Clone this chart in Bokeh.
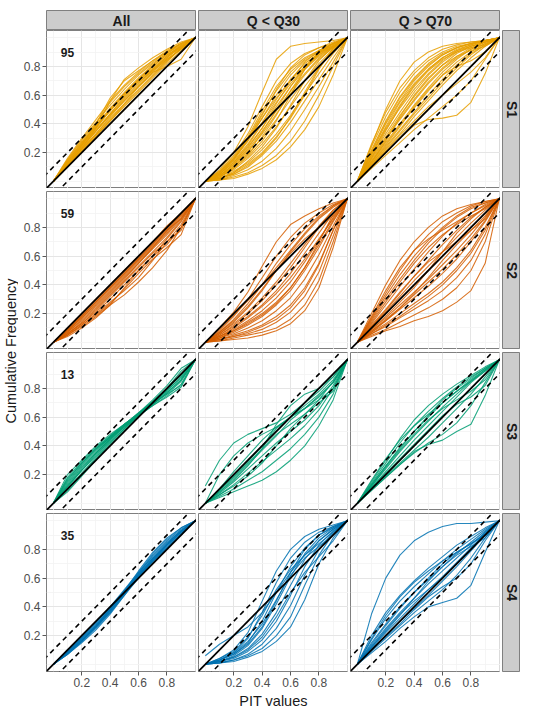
import math

from bokeh.core.properties import value
from bokeh.embed import file_html
from bokeh.layouts import column, row
from bokeh.models import FixedTicker, LinearAxis, Range1d
from bokeh.plotting import figure
from bokeh.resources import INLINE

# PIT grid on which every cumulative-frequency curve is given
PIT = [0.0, 0.1, 0.2, 0.3, 0.4, 0.5, 0.6, 0.7, 0.8, 0.9, 1.0]

STATIONS = ["S1", "S2", "S3", "S4"]
GROUPS = ["All", "Q < Q30", "Q > Q70"]
COUNTS = [95, 59, 13, 35]
COLORS = ["#E69F00", "#D55E00", "#009E73", "#0072B2"]

TICKS = [0.2, 0.4, 0.6, 0.8]
MINOR_TICKS = [0.0, 0.1, 0.3, 0.5, 0.7, 0.9, 1.0]
BAND = 0.1          # half-width of the dashed tolerance band
REF_X = [-0.2, 1.2]  # extent of the reference lines

# ---- S1 ----
S1_ALL = [
    [0, .10, .20, .30, .40, .50, .60, .70, .80, .90, 1],
    [0, .12, .23, .33, .44, .54, .64, .74, .84, .93, 1],
    [0, .13, .25, .36, .47, .58, .68, .78, .87, .95, 1],
    [0, .14, .27, .39, .51, .62, .72, .81, .89, .96, 1],
    [0, .15, .28, .40, .55, .66, .75, .83, .90, .96, 1],
    [0, .12, .25, .40, .58, .70, .77, .84, .90, .96, 1],
    [0, .11, .23, .37, .56, .71, .79, .86, .92, .97, 1],
    [0, .11, .21, .31, .42, .52, .62, .72, .82, .91, 1],
    [0, .12, .22, .32, .42, .53, .63, .73, .83, .93, 1],
    [0, .13, .24, .35, .46, .56, .66, .76, .85, .92, 1],
    [0, .14, .26, .38, .49, .60, .70, .79, .87, .93, 1],
    [0, .10, .21, .32, .43, .54, .66, .76, .80, .85, 1],
    [0, .11, .23, .35, .47, .59, .70, .78, .86, .94, 1],
    [0, .15, .29, .41, .53, .64, .74, .82, .89, .95, 1],
    [0, .16, .30, .43, .56, .67, .76, .84, .91, .96, 1],
    [0, .12, .25, .37, .49, .60, .69, .77, .85, .92, 1],
    [0, .13, .26, .37, .50, .61, .71, .80, .88, .94, 1],
    [0, .11, .22, .33, .45, .56, .66, .75, .84, .92, 1],
    [0, .14, .27, .38, .50, .61, .71, .80, .88, .94, 1],
    [0, .12, .24, .35, .46, .57, .67, .77, .86, .94, 1],
]
S1_LOW = [
    [0, .08, .20, .38, .62, .85, .94, .96, .97, .98, 1],
    [0, .07, .18, .33, .52, .70, .82, .89, .93, .97, 1],
    [0, .06, .16, .30, .47, .63, .76, .85, .91, .96, 1],
    [0, .05, .14, .26, .41, .57, .71, .82, .89, .95, 1],
    [0, .05, .13, .24, .37, .52, .66, .78, .87, .94, 1],
    [0, .04, .11, .21, .33, .47, .61, .74, .85, .93, 1],
    [0, .04, .10, .19, .30, .43, .57, .70, .82, .92, 1],
    [0, .03, .08, .16, .26, .38, .52, .66, .79, .91, 1],
    [0, .02, .07, .13, .22, .33, .46, .61, .75, .89, 1],
    [0, .02, .05, .10, .18, .28, .41, .56, .71, .86, 1],
    [0, .01, .04, .08, .14, .23, .35, .50, .66, .83, 1],
    [0, .01, .03, .06, .11, .18, .28, .42, .60, .80, 1],
    [0, .01, .02, .05, .09, .15, .24, .36, .52, .74, 1],
    [0, .06, .15, .28, .44, .60, .74, .84, .90, .93, 1],
    [0, .03, .10, .20, .34, .50, .66, .80, .90, .96, 1],
    [0, .03, .09, .17, .28, .42, .60, .78, .90, .96, 1],
    [0, .07, .17, .31, .49, .66, .78, .86, .91, .94, 1],
    [0, .02, .06, .12, .20, .31, .44, .60, .78, .93, 1],
    [0, .05, .15, .29, .46, .64, .79, .88, .93, .96, 1],
    [0, .04, .12, .23, .37, .54, .70, .83, .91, .96, 1],
    [0, .03, .09, .18, .31, .46, .63, .78, .89, .96, 1],
    [0, .02, .06, .14, .24, .37, .53, .70, .84, .94, 1],
    [0, .06, .16, .29, .44, .58, .70, .80, .88, .95, 1],
    [0, .04, .12, .22, .35, .49, .63, .75, .86, .94, 1],
    [0, .02, .05, .11, .19, .30, .45, .62, .79, .92, 1],
    [0, .05, .13, .25, .40, .55, .68, .79, .88, .94, 1],
]
S1_HIGH = [
    [0, .25, .50, .70, .83, .90, .94, .96, .97, .98, 1],
    [0, .26, .48, .65, .77, .86, .92, .95, .97, .98, 1],
    [0, .22, .42, .59, .72, .82, .89, .93, .96, .98, 1],
    [0, .19, .37, .53, .67, .78, .86, .92, .95, .98, 1],
    [0, .17, .33, .48, .62, .74, .83, .90, .94, .97, 1],
    [0, .15, .30, .44, .57, .69, .79, .87, .93, .97, 1],
    [0, .14, .27, .40, .53, .65, .76, .85, .92, .97, 1],
    [0, .12, .24, .36, .48, .60, .71, .81, .89, .95, 1],
    [0, .11, .22, .33, .45, .56, .67, .77, .86, .94, 1],
    [0, .10, .20, .30, .40, .50, .60, .70, .80, .90, 1],
    [0, .09, .18, .27, .36, .44, .52, .60, .70, .85, 1],
    [0, .10, .20, .30, .39, .43, .44, .46, .55, .75, 1],
    [0, .20, .40, .56, .70, .80, .88, .93, .96, .98, 1],
    [0, .16, .35, .52, .66, .77, .85, .90, .93, .95, 1],
    [0, .13, .28, .45, .60, .72, .81, .87, .91, .94, 1],
    [0, .12, .25, .38, .52, .64, .74, .80, .84, .90, 1],
    [0, .24, .45, .62, .75, .84, .90, .94, .96, .97, 1],
    [0, .21, .41, .58, .71, .81, .88, .93, .96, .98, 1],
    [0, .18, .36, .51, .64, .75, .84, .91, .95, .98, 1],
    [0, .16, .31, .46, .59, .71, .81, .89, .94, .97, 1],
    [0, .14, .29, .43, .56, .68, .78, .86, .92, .96, 1],
    [0, .13, .26, .39, .51, .63, .74, .83, .90, .96, 1],
    [0, .11, .23, .35, .47, .58, .69, .79, .88, .95, 1],
    [0, .10, .21, .32, .42, .52, .60, .68, .76, .86, 1],
    [0, .19, .38, .55, .68, .78, .86, .91, .94, .97, 1],
]

# ---- S2 ----
S2_ALL = [
    [0, .09, .19, .29, .39, .49, .59, .69, .79, .89, 1],
    [0, .08, .17, .27, .37, .47, .57, .67, .77, .88, 1],
    [0, .07, .16, .25, .35, .45, .55, .65, .75, .86, 1],
    [0, .06, .14, .23, .33, .43, .53, .63, .73, .85, 1],
    [0, .06, .13, .21, .30, .40, .50, .60, .72, .84, 1],
    [0, .05, .12, .20, .28, .36, .45, .57, .70, .82, 1],
    [0, .05, .11, .18, .26, .33, .42, .52, .64, .80, 1],
    [0, .06, .13, .22, .32, .42, .52, .62, .70, .78, 1],
    [0, .08, .18, .28, .38, .48, .58, .68, .80, .90, 1],
    [0, .07, .15, .24, .34, .44, .55, .66, .78, .89, 1],
    [0, .05, .12, .19, .27, .37, .48, .58, .66, .75, 1],
    [0, .10, .20, .30, .40, .50, .60, .70, .81, .90, 1],
    [0, .09, .18, .28, .38, .48, .58, .68, .78, .86, 1],
    [0, .04, .10, .17, .26, .38, .50, .60, .68, .80, 1],
    [0, .08, .17, .26, .36, .46, .56, .66, .76, .87, 1],
]
S2_LOW = [
    [0, .10, .21, .35, .53, .70, .82, .88, .93, .97, 1],
    [0, .08, .18, .30, .45, .60, .73, .83, .90, .96, 1],
    [0, .07, .15, .25, .37, .50, .63, .75, .86, .94, 1],
    [0, .06, .13, .21, .31, .42, .55, .68, .81, .92, 1],
    [0, .05, .11, .18, .26, .36, .48, .62, .76, .90, 1],
    [0, .04, .09, .15, .22, .31, .42, .56, .71, .87, 1],
    [0, .03, .07, .12, .18, .26, .36, .50, .66, .84, 1],
    [0, .03, .06, .10, .15, .22, .31, .44, .61, .81, 1],
    [0, .02, .05, .08, .12, .18, .26, .38, .55, .78, 1],
    [0, .02, .04, .06, .09, .14, .21, .32, .49, .74, 1],
    [0, .01, .03, .05, .07, .10, .16, .26, .43, .70, 1],
    [0, .01, .02, .03, .05, .08, .13, .22, .38, .66, 1],
    [0, .06, .14, .24, .36, .50, .62, .72, .80, .88, 1],
    [0, .04, .10, .17, .25, .34, .45, .58, .72, .86, 1],
    [0, .03, .08, .14, .20, .28, .38, .52, .70, .89, 1],
    [0, .09, .19, .29, .40, .52, .64, .76, .87, .95, 1],
    [0, .05, .12, .20, .29, .40, .52, .66, .80, .92, 1],
    [0, .04, .08, .13, .19, .27, .38, .52, .68, .85, 1],
    [0, .02, .04, .07, .11, .16, .24, .36, .54, .78, 1],
    [0, .07, .16, .27, .40, .55, .68, .79, .88, .95, 1],
]
S2_HIGH = [
    [0, .20, .40, .57, .70, .80, .88, .93, .96, .98, 1],
    [0, .17, .34, .50, .64, .75, .84, .90, .95, .98, 1],
    [0, .15, .30, .44, .57, .69, .79, .87, .93, .97, 1],
    [0, .13, .26, .39, .51, .63, .74, .83, .90, .96, 1],
    [0, .12, .23, .35, .46, .57, .68, .78, .87, .94, 1],
    [0, .10, .20, .30, .40, .50, .60, .70, .80, .90, 1],
    [0, .09, .17, .26, .35, .44, .54, .64, .75, .87, 1],
    [0, .08, .15, .23, .31, .39, .48, .58, .70, .84, 1],
    [0, .07, .13, .20, .27, .34, .42, .52, .64, .80, 1],
    [0, .06, .11, .17, .23, .29, .36, .45, .57, .75, 1],
    [0, .05, .09, .14, .19, .24, .30, .38, .50, .70, 1],
    [0, .04, .08, .11, .15, .18, .22, .28, .36, .55, 1],
    [0, .14, .28, .42, .55, .66, .75, .82, .88, .93, 1],
    [0, .11, .22, .34, .46, .56, .63, .70, .78, .88, 1],
    [0, .09, .18, .28, .38, .50, .63, .76, .86, .94, 1],
    [0, .07, .15, .24, .34, .45, .57, .68, .78, .86, 1],
    [0, .18, .36, .52, .64, .72, .78, .84, .90, .95, 1],
    [0, .16, .32, .47, .60, .71, .80, .88, .94, .97, 1],
    [0, .11, .21, .32, .43, .53, .63, .73, .83, .92, 1],
    [0, .08, .16, .24, .33, .42, .51, .61, .72, .85, 1],
    [0, .06, .12, .18, .25, .32, .40, .50, .62, .78, 1],
]

# ---- S3 ----
S3_ALL = [
    [0, .20, .30, .40, .48, .55, .62, .70, .78, .88, 1],
    [0, .18, .29, .39, .47, .55, .62, .69, .77, .86, 1],
    [0, .15, .27, .37, .46, .54, .61, .69, .76, .85, 1],
    [0, .13, .25, .35, .45, .53, .61, .68, .75, .83, 1],
    [0, .11, .23, .34, .44, .53, .61, .68, .74, .81, 1],
    [0, .10, .21, .32, .43, .52, .61, .69, .77, .86, 1],
    [0, .12, .24, .35, .45, .54, .62, .70, .79, .90, 1],
    [0, .09, .20, .31, .42, .52, .62, .71, .80, .92, 1],
    [0, .14, .26, .36, .46, .55, .63, .71, .80, .89, 1],
    [0, .16, .28, .38, .47, .55, .63, .70, .76, .82, 1],
    [0, .08, .19, .30, .41, .51, .61, .70, .80, .90, 1],
    [0, .12, .23, .33, .44, .54, .63, .72, .82, .94, 1],
    [0, .17, .28, .38, .46, .54, .62, .70, .79, .87, 1],
]
S3_LOW = [
    [.12, .30, .42, .48, .52, .56, .62, .70, .78, .88, 1],
    [0, .20, .33, .42, .48, .53, .60, .68, .76, .86, 1],
    [0, .10, .20, .30, .40, .50, .60, .70, .80, .90, 1],
    [0, .08, .17, .27, .37, .47, .58, .66, .75, .84, 1],
    [0, .09, .18, .28, .38, .48, .55, .62, .72, .85, 1],
    [0, .07, .15, .24, .33, .42, .50, .58, .68, .82, 1],
    [0, .06, .13, .21, .29, .37, .45, .54, .65, .80, 1],
    [0, .05, .10, .16, .22, .30, .38, .48, .60, .76, 1],
    [0, .04, .08, .12, .16, .22, .30, .40, .54, .72, 1],
    [0, .08, .16, .26, .38, .55, .68, .76, .80, .88, 1],
    [0, .09, .19, .29, .40, .52, .60, .66, .72, .80, 1],
    [0, .06, .12, .19, .28, .40, .52, .62, .70, .78, 1],
    [0, .10, .22, .33, .44, .53, .60, .66, .74, .84, 1],
]
S3_HIGH = [
    [0, .15, .30, .45, .58, .68, .76, .83, .89, .95, 1],
    [0, .14, .28, .42, .54, .64, .73, .81, .88, .94, 1],
    [0, .13, .26, .39, .50, .60, .70, .78, .86, .93, 1],
    [0, .12, .24, .36, .47, .57, .67, .76, .85, .93, 1],
    [0, .11, .22, .33, .44, .54, .64, .74, .84, .92, 1],
    [0, .10, .20, .30, .40, .50, .60, .70, .80, .90, 1],
    [0, .10, .19, .28, .37, .46, .56, .66, .76, .88, 1],
    [0, .09, .18, .27, .35, .42, .48, .56, .68, .84, 1],
    [0, .09, .18, .27, .36, .41, .44, .50, .55, .75, 1],
    [0, .16, .31, .44, .54, .62, .70, .78, .85, .92, 1],
    [0, .12, .25, .37, .48, .58, .66, .72, .78, .86, 1],
    [0, .13, .26, .38, .50, .61, .72, .80, .87, .94, 1],
    [0, .11, .21, .31, .41, .51, .61, .69, .74, .82, 1],
]

# ---- S4 ----
S4_ALL = [
    [0, .08, .17, .27, .38, .50, .62, .73, .83, .92, 1],
    [0, .09, .18, .28, .39, .51, .63, .74, .84, .93, 1],
    [0, .07, .16, .26, .37, .49, .62, .74, .84, .93, 1],
    [0, .08, .16, .25, .36, .49, .63, .76, .86, .94, 1],
    [0, .09, .19, .29, .40, .51, .62, .72, .82, .91, 1],
    [0, .10, .19, .29, .40, .52, .64, .75, .85, .93, 1],
    [0, .07, .15, .24, .35, .48, .61, .73, .83, .92, 1],
    [0, .08, .17, .26, .37, .50, .64, .77, .87, .95, 1],
    [0, .09, .18, .27, .38, .50, .61, .71, .81, .90, 1],
    [0, .08, .16, .26, .38, .51, .65, .78, .88, .95, 1],
    [0, .07, .16, .27, .39, .51, .62, .72, .81, .91, 1],
    [0, .09, .17, .26, .36, .48, .60, .72, .83, .92, 1],
]
S4_LOW = [
    [0, .04, .10, .22, .44, .65, .80, .89, .94, .97, 1],
    [0, .03, .08, .18, .36, .57, .74, .85, .92, .96, 1],
    [0, .03, .07, .15, .30, .50, .68, .81, .90, .96, 1],
    [0, .02, .06, .13, .25, .42, .61, .77, .88, .95, 1],
    [0, .02, .05, .11, .21, .36, .55, .73, .86, .94, 1],
    [0, .02, .04, .09, .17, .30, .48, .68, .83, .93, 1],
    [0, .01, .03, .07, .14, .25, .41, .62, .80, .92, 1],
    [0, .01, .03, .06, .11, .20, .33, .55, .76, .91, 1],
    [0, .01, .02, .05, .09, .16, .26, .45, .70, .88, 1],
    [.06, .14, .20, .26, .36, .50, .64, .76, .86, .94, 1],
    [0, .03, .08, .16, .28, .45, .62, .74, .82, .90, 1],
    [0, .02, .05, .10, .19, .33, .50, .64, .75, .86, 1],
    [0, .03, .07, .14, .26, .44, .64, .80, .90, .95, 1],
    [0, .04, .09, .19, .34, .52, .66, .76, .84, .92, 1],
]
S4_HIGH = [
    [0, .35, .60, .76, .86, .92, .96, .98, .98, .99, 1],
    [0, .20, .36, .48, .58, .67, .75, .83, .89, .95, 1],
    [0, .17, .32, .44, .54, .63, .72, .80, .87, .94, 1],
    [0, .15, .28, .40, .50, .59, .68, .77, .85, .93, 1],
    [0, .13, .25, .36, .46, .56, .65, .74, .83, .92, 1],
    [0, .11, .22, .32, .42, .52, .61, .71, .81, .91, 1],
    [0, .10, .20, .30, .39, .48, .58, .68, .79, .90, 1],
    [0, .09, .18, .27, .36, .44, .52, .62, .74, .88, 1],
    [0, .08, .16, .25, .33, .40, .43, .46, .55, .78, 1],
    [0, .14, .27, .39, .50, .60, .70, .78, .84, .90, 1],
    [0, .12, .24, .35, .44, .52, .60, .70, .80, .92, 1],
    [0, .18, .34, .47, .57, .65, .72, .78, .84, .91, 1],
    [0, .10, .19, .28, .38, .47, .54, .60, .70, .86, 1],
    [0, .12, .23, .34, .46, .58, .68, .76, .82, .88, 1],
]

CURVES = [
    [S1_ALL, S1_LOW, S1_HIGH],
    [S2_ALL, S2_LOW, S2_HIGH],
    [S3_ALL, S3_LOW, S3_HIGH],
    [S4_ALL, S4_LOW, S4_HIGH],
]

FONT_NAME = "Liberation Sans"
FONT = value(FONT_NAME)
BORDER = "#7F7F7F"
STRIP_FILL = "#CCCCCC"
PANEL_W, PANEL_H = 150, 158
LEFT_PAD = 28      # room for the y tick labels (beside the title column)
GAP = 2            # horizontal gap between panels
ROW_GAP = 3        # vertical gap between panels
BOTTOM_PAD = 40    # x tick labels and axis title


def style_axis(ax):
    ax.axis_line_color = None
    ax.major_tick_line_color = "#595959"
    ax.major_tick_out = 4
    ax.major_tick_in = 0
    ax.minor_tick_out = 0
    ax.minor_tick_in = 0
    ax.major_label_text_font = FONT_NAME
    ax.major_label_text_font_size = "12px"
    ax.major_label_text_color = "#4D4D4D"
    ax.major_label_standoff = 2
    ax.axis_label_text_font = FONT_NAME
    ax.axis_label_text_font_size = "14.5px"
    ax.axis_label_text_font_style = "normal"
    ax.axis_label_text_color = "#1A1A1A"
    ax.axis_label_standoff = 3


def blank(width, height, **borders):
    f = figure(frame_width=width, frame_height=height,
               x_range=Range1d(0, 1), y_range=Range1d(0, 1),
               x_axis_location=None, y_axis_location=None,
               output_backend="svg", toolbar_location=None, **borders)
    f.grid.visible = False
    f.border_fill_color = "white"
    return f


def strip(width, height, label, angle, font_size, **borders):
    s = blank(width, height, **borders)
    s.background_fill_color = STRIP_FILL
    s.outline_line_color = BORDER
    s.text(x=[0.5], y=[0.5], text=[label], angle=angle,
           text_font=FONT, text_font_style="bold", text_font_size=font_size,
           text_color="#1A1A1A", text_align="center", text_baseline="middle")
    return s


def panel(r, c):
    p = figure(frame_width=PANEL_W, frame_height=PANEL_H,
               x_range=Range1d(-0.048, 1.008), y_range=Range1d(-0.05, 1.05),
               x_axis_location=None, y_axis_location=None,
               output_backend="svg", toolbar_location=None,
               min_border_left=LEFT_PAD if c == 0 else GAP, min_border_right=0,
               min_border_top=0 if r == 0 else ROW_GAP,
               min_border_bottom=BOTTOM_PAD if r == 3 else 0)
    p.outline_line_color = BORDER
    p.border_fill_color = "white"
    p.background_fill_color = "white"
    p.grid.ticker = FixedTicker(ticks=TICKS, minor_ticks=MINOR_TICKS)
    p.grid.grid_line_color = "#E5E5E5"
    p.grid.grid_line_width = 1
    p.grid.minor_grid_line_color = "#F3F3F3"
    p.grid.minor_grid_line_width = 0.8

    if c == 0:
        ax = LinearAxis(ticker=FixedTicker(ticks=TICKS))
        style_axis(ax)
        p.add_layout(ax, "left")
    if r == 3:
        ax = LinearAxis(ticker=FixedTicker(ticks=TICKS),
                        axis_label="PIT values" if c == 1 else None)
        style_axis(ax)
        p.add_layout(ax, "below")

    curves = CURVES[r][c]
    p.multi_line(xs=[PIT] * len(curves), ys=curves,
                 line_color=COLORS[r], line_width=1.1, line_alpha=0.85)

    for off in (BAND, -BAND):
        p.line(REF_X, [x + off for x in REF_X], line_color="black",
               line_width=1.6, line_dash="5 4")
    p.line(REF_X, REF_X, line_color="black", line_width=1.8)

    if c == 0:
        p.text(x=[0.1], y=[0.9], text=[str(COUNTS[r])], text_font=FONT,
               text_font_style="bold", text_font_size="12px", text_color="#1A1A1A",
               text_align="center", text_baseline="middle")
    return p


# facet strips along the top
top_strips = [strip(PANEL_W, 20, g, 0, "14px",
                    min_border_left=LEFT_PAD if i == 0 else GAP, min_border_right=0,
                    min_border_top=10, min_border_bottom=0)
              for i, g in enumerate(GROUPS)]

rows = [row(*top_strips)]
for r, st in enumerate(STATIONS):
    panels = [panel(r, c) for c in range(3)]
    side = strip(18, PANEL_H, st, -math.pi / 2, "14px",
                 min_border_left=GAP, min_border_right=0,
                 min_border_top=0 if r == 0 else ROW_GAP,
                 min_border_bottom=BOTTOM_PAD if r == 3 else 0)
    rows.append(row(*panels, side))

total_h = 30 + 4 * PANEL_H + 3 * ROW_GAP + BOTTOM_PAD
ylab = blank(18, total_h, min_border_left=0, min_border_right=0,
             min_border_top=0, min_border_bottom=0)
ylab.outline_line_color = None
ylab.text(x=[0.6], y=[1 - (30 + (4 * PANEL_H + 3 * ROW_GAP) / 2) / total_h],
          text=["Cumulative Frequency"], angle=math.pi / 2,
          text_font=FONT, text_font_size="14.5px", text_color="#1A1A1A",
          text_align="center", text_baseline="middle")

layout = row(ylab, column(*rows))

open("out.html", "w").write(file_html(layout, INLINE))
